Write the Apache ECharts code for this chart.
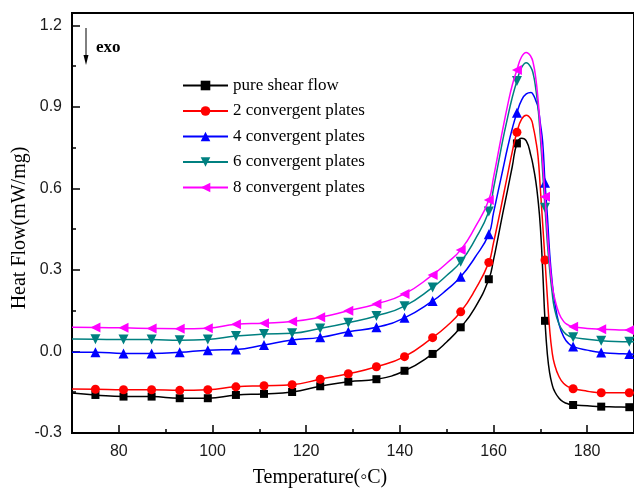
<!DOCTYPE html>
<html>
<head>
<meta charset="utf-8">
<script src="https://cdn.jsdelivr.net/npm/echarts@6/dist/echarts.min.js"></script>
<style>
  html, body { margin: 0; padding: 0; background: #fff; }
  #chart { width: 634px; height: 494px; }
</style>
</head>
<body>
<div id="chart"></div>
<script>
// Temperature sampling points (°C); markers sit every 6 °C starting at 75
const temps = [70, 75, 81, 87, 93, 99, 105, 111, 117, 123, 129, 135, 141, 147, 150, 153, 156, 159,
  160, 161, 162, 163, 164, 165, 166, 167, 168, 168.5, 169, 169.5, 170, 170.5, 171, 171.5,
  172, 172.5, 173, 174, 175, 176, 177, 180, 183, 186, 189, 190];

// Heat flow (mW/mg) for each processing condition
const pureShear = [-0.153, -0.160, -0.166, -0.166, -0.172, -0.172, -0.160, -0.156, -0.149, -0.128, -0.111, -0.102, -0.071, -0.009, 0.035, 0.089, 0.160, 0.266,
  0.337, 0.422, 0.510, 0.594, 0.680, 0.766, 0.785, 0.775, 0.720, 0.680, 0.630, 0.560, 0.460, 0.300, 0.113, -0.010,
  -0.080, -0.120, -0.145, -0.172, -0.186, -0.193, -0.197, -0.200, -0.203, -0.204, -0.205, -0.206];
const plates2 = [-0.138, -0.139, -0.141, -0.141, -0.143, -0.141, -0.130, -0.126, -0.122, -0.102, -0.082, -0.056, -0.019, 0.051, 0.093, 0.146, 0.225, 0.328,
  0.400, 0.480, 0.565, 0.650, 0.735, 0.807, 0.855, 0.870, 0.855, 0.825, 0.780, 0.720, 0.600, 0.470, 0.337, 0.200,
  0.080, 0.000, -0.045, -0.093, -0.118, -0.130, -0.137, -0.146, -0.152, -0.152, -0.152, -0.152];
const plates4 = [-0.003, -0.003, -0.007, -0.007, -0.003, 0.005, 0.007, 0.024, 0.042, 0.052, 0.073, 0.089, 0.124, 0.186, 0.227, 0.275, 0.345, 0.432,
  0.510, 0.590, 0.670, 0.750, 0.820, 0.879, 0.925, 0.948, 0.953, 0.945, 0.925, 0.900, 0.840, 0.770, 0.621, 0.500,
  0.360, 0.260, 0.190, 0.100, 0.054, 0.030, 0.018, 0.005, -0.004, -0.007, -0.009, -0.010];
const plates6 = [0.046, 0.045, 0.044, 0.044, 0.041, 0.044, 0.057, 0.064, 0.067, 0.085, 0.106, 0.131, 0.167, 0.236, 0.280, 0.330, 0.410, 0.515,
  0.600, 0.690, 0.780, 0.860, 0.935, 0.996, 1.045, 1.063, 1.045, 1.020, 0.970, 0.900, 0.790, 0.660, 0.529, 0.400,
  0.300, 0.220, 0.160, 0.100, 0.072, 0.058, 0.052, 0.045, 0.040, 0.037, 0.036, 0.036];
const plates8 = [0.089, 0.088, 0.087, 0.085, 0.084, 0.086, 0.100, 0.104, 0.110, 0.126, 0.150, 0.175, 0.212, 0.282, 0.325, 0.374, 0.455, 0.558,
  0.640, 0.730, 0.820, 0.905, 0.980, 1.036, 1.085, 1.101, 1.085, 1.060, 1.010, 0.930, 0.820, 0.700, 0.570, 0.440,
  0.330, 0.250, 0.200, 0.140, 0.110, 0.097, 0.091, 0.085, 0.082, 0.080, 0.079, 0.079];

const seriesNames = ['pure shear flow', '2 convergent plates', '4 convergent plates', '6 convergent plates', '8 convergent plates'];

// Axis ticks
const xTicks = [80, 100, 120, 140, 160, 180];
const xMinorTicks = [90, 110, 130, 150, 170];
const yTicks = [-0.3, 0, 0.3, 0.6, 0.9, 1.2];
const yMinorTicks = [-0.15, 0.15, 0.45, 0.75, 1.05];

const serifFont = "'Liberation Serif', 'Times New Roman', serif";
const sansFont = "'Liberation Sans', Arial, sans-serif";

const styles = [
  { color: '#000000', symbol: 'rect', rotate: 0, size: 8 },
  { color: '#ff0000', symbol: 'circle', rotate: 0, size: 9 },
  { color: '#0000ff', symbol: 'triangle', rotate: 0, size: 10 },
  { color: '#008080', symbol: 'triangle', rotate: 180, size: 10 },
  { color: '#ff00ff', symbol: 'triangle', rotate: 90, size: 10 }
];
const valueSets = [pureShear, plates2, plates4, plates6, plates8];

function isMarker(t) {
  return Number.isInteger(t) && t >= 75 && (t - 75) % 6 === 0;
}

const series = valueSets.map((vals, k) => ({
  name: seriesNames[k],
  type: 'line',
  data: temps.map((t, i) => [t, vals[i]]),
  smooth: 0.5,
  showAllSymbol: true,
  symbol: styles[k].symbol,
  symbolRotate: styles[k].rotate,
  symbolSize: (value) => isMarker(value[0]) ? styles[k].size : 0,
  lineStyle: { color: styles[k].color, width: 1.5 },
  itemStyle: { color: styles[k].color },
  emphasis: { disabled: true },
  z: 2 + k
}));

const chart = echarts.init(document.getElementById('chart'));
chart.setOption({
  animation: false,
  backgroundColor: '#fff',
  grid: {
    left: 72, right: -2, top: 13, bottom: 61,
    show: true, borderColor: '#000', borderWidth: 2
  },
  legend: {
    orient: 'vertical',
    left: 177,
    top: 72,
    itemWidth: 45,
    itemHeight: 12,
    itemGap: 8.5,
    data: seriesNames,
    textStyle: { fontFamily: serifFont, fontSize: 17, color: '#000', lineHeight: 17 }
  },
  xAxis: [
    {
      type: 'value', min: 70, max: 190, position: 'bottom',
      axisLine: { show: true, onZero: false, lineStyle: { color: '#000', width: 2 } },
      axisTick: { show: true, inside: true, length: 8, customValues: xTicks, lineStyle: { color: '#000', width: 1.5 } },
      axisLabel: { customValues: xTicks, fontFamily: sansFont, fontSize: 16, color: '#1a1a1a', margin: 11 },
      splitLine: { show: false }
    },
    {
      type: 'value', min: 70, max: 190, position: 'bottom',
      axisLine: { show: false, onZero: false },
      axisTick: { show: true, inside: true, length: 4, customValues: xMinorTicks, lineStyle: { color: '#000', width: 1.5 } },
      axisLabel: { show: false },
      splitLine: { show: false }
    }
  ],
  yAxis: [
    {
      type: 'value', min: -0.3, max: 1.246, position: 'left',
      axisLine: { show: true, onZero: false, lineStyle: { color: '#000', width: 2 } },
      axisTick: { show: true, inside: true, length: 8, customValues: yTicks, lineStyle: { color: '#000', width: 1.5 } },
      axisLabel: {
        customValues: yTicks, fontFamily: sansFont, fontSize: 16, color: '#1a1a1a', margin: 10,
        formatter: (v) => v.toFixed(1)
      },
      splitLine: { show: false }
    },
    {
      type: 'value', min: -0.3, max: 1.246, position: 'left',
      axisLine: { show: false, onZero: false },
      axisTick: { show: true, inside: true, length: 4, customValues: yMinorTicks, lineStyle: { color: '#000', width: 1.5 } },
      axisLabel: { show: false },
      splitLine: { show: false }
    }
  ],
  graphic: [
    // "exo" direction arrow
    { type: 'line', shape: { x1: 86, y1: 28, x2: 86, y2: 58 }, style: { stroke: '#000', lineWidth: 1 } },
    { type: 'polygon', shape: { points: [[83.5, 55], [88.5, 55], [86, 65]] }, style: { fill: '#000' } },
    {
      type: 'text', x: 96, y: 48,
      style: { text: 'exo', fontFamily: serifFont, fontWeight: 'bold', fontSize: 17, fill: '#000', textVerticalAlign: 'middle' }
    },
    // Axis titles
    {
      type: 'text', x: 20, y: 228, rotation: Math.PI / 2,
      style: { text: 'Heat Flow(mW/mg)', fontFamily: serifFont, fontSize: 20, fill: '#000', textAlign: 'center', textVerticalAlign: 'middle' }
    },
    {
      type: 'text', x: 320, y: 478,
      style: { text: 'Temperature(\u25E6C)', fontFamily: serifFont, fontSize: 20, fill: '#000', textAlign: 'center', textVerticalAlign: 'middle' }
    }
  ],
  series: series
});
</script>
</body>
</html>
